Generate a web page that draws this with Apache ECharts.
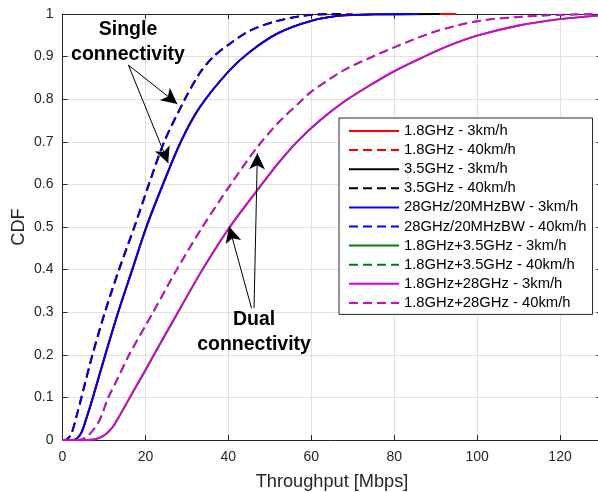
<!DOCTYPE html>
<html>
<head>
<meta charset="utf-8">
<script src="https://cdn.jsdelivr.net/npm/echarts/dist/echarts.min.js"></script>
<style>
html,body{margin:0;padding:0;background:#fff;}
#chart{width:598px;height:492px;}
</style>
</head>
<body>
<div id="chart"></div>
<script>
// ---- data (x = Throughput [Mbps], y = CDF) ----
const seriesNames = [
  '1.8GHz - 3km/h', '1.8GHz - 40km/h',
  '3.5GHz - 3km/h', '3.5GHz - 40km/h',
  '28GHz/20MHzBW - 3km/h', '28GHz/20MHzBW - 40km/h',
  '1.8GHz+3.5GHz - 3km/h', '1.8GHz+3.5GHz - 40km/h',
  '1.8GHz+28GHz - 3km/h', '1.8GHz+28GHz - 40km/h'
];
const xTicks = [0, 20, 40, 60, 80, 100, 120];
const yTicks = [0, 0.1, 0.2, 0.3, 0.4, 0.5, 0.6, 0.7, 0.8, 0.9, 1];

const s18_3 = [[0,0],[2.6,0],[4.5,0.015],[5.8,0.05],[7.4,0.1],[10.4,0.2],[13.5,0.3],[16.9,0.4],[20.3,0.5],[24.3,0.6],[28.6,0.7],[33.1,0.78],[40.1,0.865],[45.1,0.91],[52,0.955],[60,0.984],[67,0.996],[75,0.999],[95,1]];
const s18_40 = [[0,0],[0.5,0],[2,0.012],[3.5,0.06],[4.6,0.1],[7.3,0.2],[10.3,0.3],[13.7,0.4],[17.4,0.5],[20.9,0.6],[24.6,0.7],[29.6,0.8],[33.3,0.863],[36.5,0.9],[40.1,0.928],[45.3,0.961],[51.9,0.984],[60,0.998],[70,1]];
const s35_3 = [[0,0],[2.5,0],[4.4,0.015],[5.7,0.05],[7.3,0.1],[10.3,0.2],[13.4,0.3],[16.8,0.4],[20.2,0.5],[24.2,0.6],[28.5,0.7],[33,0.78],[40,0.865],[45,0.91],[52,0.955],[60,0.984],[67,0.996],[75,0.999],[91,1]];
const s35_40 = [[0,0],[0.5,0],[2,0.012],[3.5,0.06],[4.6,0.1],[7.2,0.2],[10.2,0.3],[13.6,0.4],[17.3,0.5],[20.8,0.6],[24.5,0.7],[29.5,0.8],[33.2,0.863],[36.4,0.9],[40,0.928],[45.2,0.961],[51.8,0.984],[60,0.998],[68,1]];
const s28_3 = [[0,0],[2.5,0],[4.4,0.015],[5.7,0.05],[7.3,0.1],[10.3,0.2],[13.4,0.3],[16.8,0.4],[20.2,0.5],[24.2,0.6],[28.5,0.7],[33,0.78],[40,0.865],[45,0.91],[52,0.955],[60,0.984],[67,0.996],[75,0.999],[86,1]];
const s28_40 = [[0,0],[0.4,0],[2,0.012],[3.5,0.06],[4.5,0.1],[7.2,0.2],[10.2,0.3],[13.6,0.4],[17.3,0.5],[20.8,0.6],[24.5,0.7],[29.5,0.8],[33.2,0.863],[36.4,0.9],[40,0.928],[45.2,0.961],[51.8,0.984],[60,0.998],[66,1]];
const d35_3 = [[0,0],[6.1,0],[9.6,0.008],[12.1,0.03],[14.1,0.062],[16.3,0.1],[20.1,0.165],[22.1,0.2],[27.9,0.3],[33.8,0.4],[40.4,0.5],[48.1,0.6],[52.1,0.65],[56.6,0.7],[62.1,0.75],[68.1,0.795],[74.1,0.832],[80.1,0.866],[87.1,0.899],[93.1,0.925],[100,0.949],[110,0.973],[120,0.988],[130,0.997]];
const d35_40 = [[0,0],[4.1,0],[6.4,0.012],[8.9,0.045],[11.1,0.1],[13.4,0.145],[16.1,0.2],[21.9,0.3],[27.6,0.4],[33.8,0.5],[40.6,0.6],[46.6,0.682],[52.1,0.745],[57.5,0.795],[60.1,0.818],[68.1,0.869],[76.7,0.908],[80.1,0.922],[89.7,0.958],[100,0.983],[110,0.993],[120,0.998],[130,1]];
const d28_3 = [[0,0],[6,0],[9.5,0.008],[12,0.03],[14,0.062],[16.2,0.1],[20,0.165],[22,0.2],[27.8,0.3],[33.7,0.4],[40.3,0.5],[48,0.6],[52,0.65],[56.5,0.7],[62,0.75],[68,0.795],[74,0.832],[80,0.866],[87,0.899],[93,0.925],[100,0.949],[110,0.973],[120,0.988],[130,0.997]];
const d28_40 = [[0,0],[4,0],[6.3,0.012],[8.8,0.045],[11,0.1],[13.3,0.145],[16,0.2],[21.8,0.3],[27.5,0.4],[33.7,0.5],[40.5,0.6],[46.5,0.682],[52,0.745],[57.4,0.795],[60,0.818],[68,0.869],[76.6,0.908],[80,0.922],[89.6,0.958],[100,0.983],[110,0.993],[120,0.998],[130,1]];

const seriesData = [s18_3, s18_40, s35_3, s35_40, s28_3, s28_40, d35_3, d35_40, d28_3, d28_40];
const seriesColors = ['#ff0000','#ff0000','#000000','#000000','#0000ff','#0000ff','#008000','#008000','#dd00dd','#dd00dd'];
const seriesDashed = [false,true,false,true,false,true,false,true,false,true];

// annotation arrows (data coordinates): [start, tip]
const arrows = [
  [[15.9, 0.880], [27.7, 0.789]],
  [[15.9, 0.880], [25.5, 0.650]],
  [[45.6, 0.309], [40.2, 0.501]],
  [[46.2, 0.310], [47.0, 0.673]]
];
const notes = [
  {text: 'Single\nconnectivity', at: [15.8, 0.934]},
  {text: 'Dual\nconnectivity', at: [46.2, 0.253]}
];

const FONT = 'Liberation Sans, Arial, sans-serif';
const AX = '#262626';
const chart = echarts.init(document.getElementById('chart'), null, {renderer: 'canvas'});

const series = seriesData.map((d, i) => ({
  name: seriesNames[i],
  type: 'line',
  data: d,
  showSymbol: false,
  symbol: 'none',
  smooth: 0.3,
  lineStyle: {color: seriesColors[i], width: 1.8, type: seriesDashed[i] ? [9, 5] : 'solid'},
  itemStyle: {color: seriesColors[i]},
  emphasis: {disabled: true},
  xAxisIndex: 0, yAxisIndex: 0
}));

series.push({
  name: 'annotations',
  type: 'line',
  data: [],
  silent: true,
  z: 5,
  markLine: {
    silent: true,
    symbol: ['none', 'arrow'],
    symbolSize: [12, 16],
    label: {show: false},
    emphasis: {disabled: true},
    lineStyle: {color: '#000', width: 1, type: 'solid'},
    data: arrows.map(a => [{coord: a[0]}, {coord: a[1]}])
  },
  markPoint: {
    silent: true,
    symbol: 'circle',
    symbolSize: 0,
    label: {
      show: true, position: 'inside', color: '#000', fontFamily: FONT,
      fontWeight: 'bold', fontSize: 19.5, lineHeight: 25, align: 'center',
      formatter: p => p.name
    },
    data: notes.map(n => ({name: n.text, coord: n.at}))
  }
});

const axisCommon = {
  type: 'value',
  axisLine: {show: true, onZero: false, lineStyle: {color: AX, width: 1}},
  axisTick: {show: true, inside: true, length: 5, lineStyle: {color: AX, width: 1}},
  splitLine: {show: false},
  nameMoveOverlap: false,
  nameTextStyle: {color: AX, fontFamily: FONT, fontSize: 18.2}
};

chart.setOption({
  animation: false,
  backgroundColor: '#ffffff',
  grid: {left: 62.5, top: 14, right: -3.5, bottom: 52, outerBoundsMode: 'none', containLabel: false},
  legend: {
    data: seriesNames,
    orient: 'vertical',
    left: 339, top: 118,
    padding: [5.5, 6, 4, 9],
    itemWidth: 50, itemHeight: 14, itemGap: 4.1,
    backgroundColor: '#ffffff',
    borderColor: AX, borderWidth: 1, borderRadius: 0,
    selectedMode: false,
    itemStyle: {opacity: 0},
    textStyle: {color: '#000', fontFamily: FONT, fontSize: 14.8}
  },
  xAxis: [
    Object.assign({}, axisCommon, {
      min: 0, max: 130, interval: 20, position: 'bottom',
      name: 'Throughput [Mbps]', nameLocation: 'middle', nameGap: 33,
      axisLabel: {color: AX, fontFamily: FONT, fontSize: 14, margin: 10, showMaxLabel: false,
        formatter: v => (xTicks.indexOf(v) >= 0 ? String(v) : '')},
      splitLine: {show: true, lineStyle: {color: '#e0e0e0', width: 1}}
    }),
    Object.assign({}, axisCommon, {
      min: 0, max: 130, interval: 20, position: 'top',
      axisLabel: {show: false}
    })
  ],
  yAxis: [
    Object.assign({}, axisCommon, {
      min: 0, max: 1, interval: 0.1, position: 'left',
      name: 'CDF', nameLocation: 'middle', nameGap: 35,
      axisLabel: {color: AX, fontFamily: FONT, fontSize: 14, margin: 9,
        formatter: v => { const r = Math.round(v * 10) / 10; return yTicks.indexOf(r) >= 0 ? String(r) : ''; }},
      splitLine: {show: true, lineStyle: {color: '#e0e0e0', width: 1}}
    }),
    Object.assign({}, axisCommon, {
      min: 0, max: 1, interval: 0.1, position: 'right',
      axisLabel: {show: false}
    })
  ],
  series: series
});
</script>
</body>
</html>
